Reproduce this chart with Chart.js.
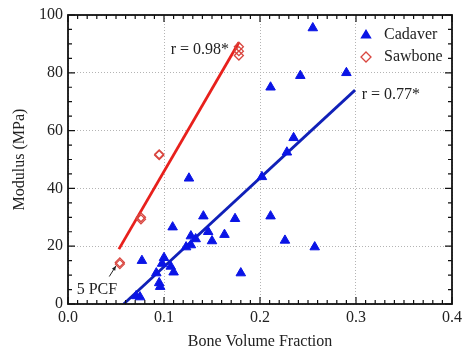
<!DOCTYPE html>
<html lang="en">
  <head>
    <meta charset="utf-8">
    <title>Modulus vs Bone Volume Fraction</title>
    <script src="https://cdn.jsdelivr.net/npm/chart.js@4.4.0/dist/chart.umd.min.js"></script>
    <style>
      html, body { margin: 0; padding: 0; background: #fff; }
      #wrap { width: 466px; height: 353px; }
    </style>
  </head>
  <body>
    <div id="wrap"><canvas id="modChart" width="466" height="353"></canvas></div>
    <script>
      // cadaver specimens (bone volume fraction, modulus in MPa)
      var cadaverBVF = [0.255, 0.211, 0.242, 0.290, 0.235, 0.228, 0.202, 0.211, 0.226, 0.257, 0.180,
                        0.126, 0.141, 0.174, 0.109, 0.146, 0.163, 0.128, 0.133, 0.150, 0.128, 0.123,
                        0.100, 0.077, 0.098, 0.107, 0.110, 0.092, 0.095, 0.096, 0.071, 0.075];
      var cadaverMod = [95.5, 75, 79, 80, 57.5, 52.5, 44, 30.4, 22, 19.7, 10.7,
                        43.5, 30.4, 29.5, 26.6, 25, 24, 23.5, 22.5, 21.8, 20.4, 19.7,
                        16, 15, 14, 13, 11, 10.7, 7.3, 6, 2.8, 2.4];
      // sawbone foams
      var sawboneBVF = [0.054, 0.054, 0.076, 0.076, 0.095, 0.095, 0.178, 0.178, 0.178];
      var sawboneMod = [13.8, 14.4, 29.3, 30, 51.5, 51.8, 86, 87.5, 89];
      // regression lines (end points)
      var sawFitBVF = [0.053, 0.178];
      var sawFitMod = [19, 90.5];
      var cadFitBVF = [0.058, 0.299];
      var cadFitMod = [0, 74];

      var xTicks = [0, 0.1, 0.2, 0.3, 0.4];
      var yTicks = [0, 20, 40, 60, 80, 100];

      function pts(xs, ys) {
        return xs.map(function (x, i) { return {x: x, y: ys[i]}; });
      }

      var blue = '#0a14e6';
      var red = '#d9463f';

      Chart.defaults.font.family = '"Liberation Serif", "Times New Roman", serif';
      Chart.defaults.font.size = 16;
      Chart.defaults.color = '#222';

      function drawShape(ctx, style, x, y, r) {
        if (style === 'triangle') {
          ctx.moveTo(x, y - r);
          ctx.lineTo(x + r * 0.95, y + r * 0.6);
          ctx.lineTo(x - r * 0.95, y + r * 0.6);
          ctx.closePath();
        } else {
          ctx.moveTo(x, y - r);
          ctx.lineTo(x + r, y);
          ctx.lineTo(x, y + r);
          ctx.lineTo(x - r, y);
          ctx.closePath();
        }
      }

      // frame, inward ticks, annotations and legend
      var extras = {
        id: 'extras',
        afterDraw: function (chart) {
          var ctx = chart.ctx, a = chart.chartArea;
          var xs = chart.scales.x, ys = chart.scales.y;
          ctx.save();
          ctx.strokeStyle = '#111';
          ctx.lineWidth = 1.2;
          var i, px, py, len;
          for (i = 0; i <= 40; i++) {
            px = xs.getPixelForValue(i / 100);
            len = (i % 10 === 0) ? 7 : 4;
            ctx.beginPath();
            ctx.moveTo(px, a.bottom); ctx.lineTo(px, a.bottom - len);
            ctx.moveTo(px, a.top); ctx.lineTo(px, a.top + len);
            ctx.stroke();
          }
          for (i = 0; i <= 20; i++) {
            py = ys.getPixelForValue(i * 5);
            len = (i % 4 === 0) ? 7 : 4;
            ctx.beginPath();
            ctx.moveTo(a.left, py); ctx.lineTo(a.left + len, py);
            ctx.moveTo(a.right, py); ctx.lineTo(a.right - len, py);
            ctx.stroke();
          }
          ctx.lineWidth = 1.8;
          ctx.strokeRect(a.left, a.top, a.right - a.left, a.bottom - a.top);

          // r labels
          ctx.fillStyle = '#222';
          ctx.font = '16px "Liberation Serif", serif';
          ctx.textBaseline = 'middle';
          ctx.textAlign = 'left';
          ctx.fillText('r = 0.98*', xs.getPixelForValue(0.107), ys.getPixelForValue(87.9));
          ctx.fillText('r = 0.77*', xs.getPixelForValue(0.306), ys.getPixelForValue(72.3));
          ctx.fillText('5 PCF', xs.getPixelForValue(0.009), ys.getPixelForValue(4.8));

          // arrow to 5 PCF point
          var ax0 = xs.getPixelForValue(0.043), ay0 = ys.getPixelForValue(9.5);
          var ax1 = xs.getPixelForValue(0.050), ay1 = ys.getPixelForValue(13.2);
          ctx.strokeStyle = '#222';
          ctx.lineWidth = 1;
          ctx.beginPath(); ctx.moveTo(ax0, ay0); ctx.lineTo(ax1, ay1); ctx.stroke();
          var ang = Math.atan2(ay1 - ay0, ax1 - ax0);
          ctx.beginPath();
          ctx.moveTo(ax1, ay1);
          ctx.lineTo(ax1 - 5 * Math.cos(ang - 0.4), ay1 - 5 * Math.sin(ang - 0.4));
          ctx.lineTo(ax1 - 5 * Math.cos(ang + 0.4), ay1 - 5 * Math.sin(ang + 0.4));
          ctx.closePath();
          ctx.fillStyle = '#222';
          ctx.fill();

          // legend
          var lx = a.right - 86, ly = a.top + 20;
          chart.data.datasets.slice(0, 2).forEach(function (ds, k) {
            var y = ly + k * 22;
            ctx.fillStyle = ds.pointBackgroundColor;
            ctx.strokeStyle = ds.borderColor;
            ctx.lineWidth = ds.borderWidth;
            ctx.beginPath();
            drawShape(ctx, ds.pointStyle, lx, y, ds.pointRadius + 0.5);
            if (ds.pointStyle === 'triangle') ctx.fill(); else ctx.stroke();
            ctx.fillStyle = '#222';
            ctx.fillText(ds.label, lx + 18, y);
          });
          ctx.restore();
        }
      };

      var gridStyle = {
        color: '#b4b4b4',
        lineWidth: 1,
        drawTicks: false
      };
      var borderStyle = { display: false, dash: [1, 2] };

      new Chart(document.getElementById('modChart').getContext('2d'), {
        type: 'scatter',
        data: {
          datasets: [{
            label: 'Cadaver',
            data: pts(cadaverBVF, cadaverMod),
            pointStyle: 'triangle',
            pointRadius: 5.5,
            pointBackgroundColor: blue,
            backgroundColor: blue,
            borderColor: blue,
            borderWidth: 1
          }, {
            label: 'Sawbone',
            data: pts(sawboneBVF, sawboneMod),
            pointStyle: 'rectRot',
            pointRadius: 4.5,
            pointBackgroundColor: 'rgba(0,0,0,0)',
            backgroundColor: 'rgba(0,0,0,0)',
            borderColor: red,
            borderWidth: 1.3
          }, {
            label: 'sawFit',
            data: pts(sawFitBVF, sawFitMod),
            showLine: true,
            pointRadius: 0,
            borderColor: '#e8201c',
            borderWidth: 2.8
          }, {
            label: 'cadFit',
            data: pts(cadFitBVF, cadFitMod),
            showLine: true,
            pointRadius: 0,
            borderColor: '#1020b8',
            borderWidth: 2.8
          }]
        },
        options: {
          responsive: false,
          animation: false,
          layout: { padding: { top: 15, right: 10, left: 0, bottom: 0 } },
          plugins: { legend: { display: false }, tooltip: { enabled: false } },
          scales: {
            x: {
              type: 'linear', min: 0, max: 0.4,
              afterBuildTicks: function (s) { s.ticks = xTicks.map(function (v) { return {value: v}; }); },
              afterFit: function (s) { s.height = 49; },
              ticks: { padding: 4, color: '#222', callback: function (v) { return v.toFixed(1); } },
              grid: gridStyle,
              border: borderStyle,
              title: { display: true, text: 'Bone Volume Fraction', color: '#222', padding: 2 }
            },
            y: {
              type: 'linear', min: 0, max: 100,
              afterBuildTicks: function (s) { s.ticks = yTicks.map(function (v) { return {value: v}; }); },
              afterFit: function (s) { s.width = 68; },
              ticks: { padding: 5, color: '#222' },
              grid: gridStyle,
              border: borderStyle,
              title: { display: true, text: 'Modulus (MPa)', color: '#222', padding: 10 }
            }
          }
        },
        plugins: [extras]
      });
    </script>
  </body>
</html>
